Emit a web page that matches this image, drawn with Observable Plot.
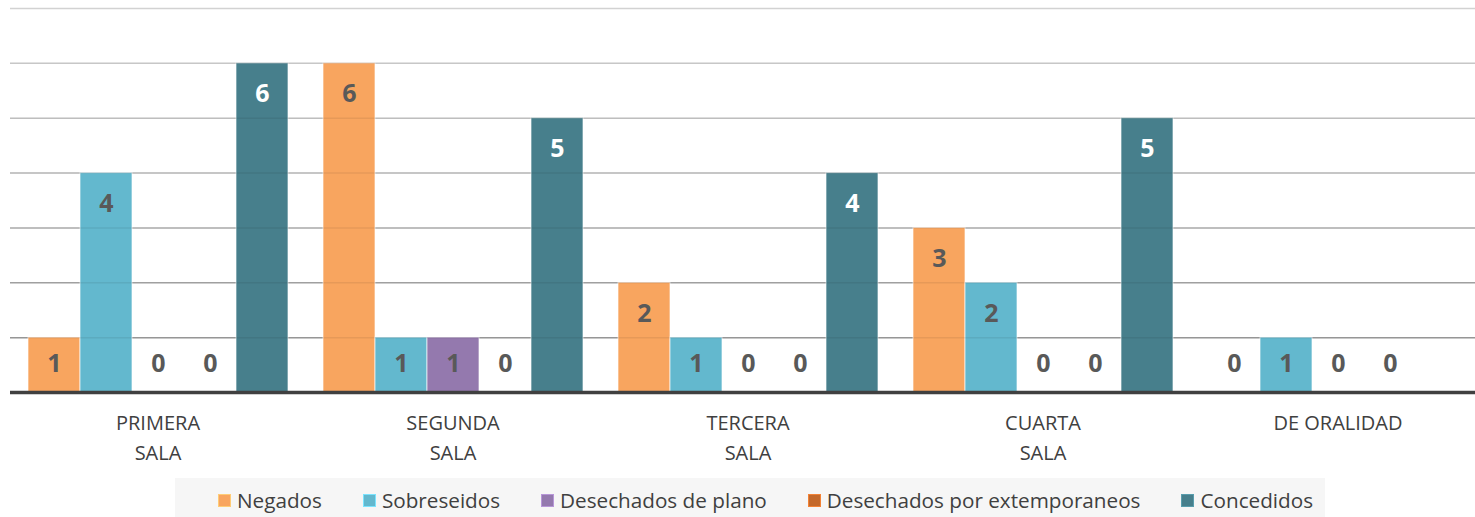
<!DOCTYPE html>
<html>
<head>
<meta charset="utf-8">
<script src="https://cdn.jsdelivr.net/npm/d3@7"></script>
<script src="https://cdn.jsdelivr.net/npm/@observablehq/plot@0.6"></script>
<style>
  html, body { margin: 0; padding: 0; background: #fff; overflow: hidden; }
  #legend { margin-top: 8px; margin-left: 175px; width: 1150px; height: 44px; background: #f6f6f6;
    display: flex; align-items: center; padding-left: 43px; box-sizing: border-box; gap: 41px;
    font: 20.7px "Open Sans", sans-serif; color: #404040; }
  #legend .item { display: flex; align-items: center; gap: 6px; white-space: nowrap; }
  #legend .sw { width: 11px; height: 11px; display: inline-block; }
</style>
</head>
<body>
<div id="chart"></div>
<div id="legend"></div>
<script>
const groups = ["PRIMERA\nSALA", "SEGUNDA\nSALA", "TERCERA\nSALA", "CUARTA\nSALA", "DE ORALIDAD"];
const series = ["Negados", "Sobreseidos", "Desechados de plano", "Desechados por extemporaneos", "Concedidos"];
const negados = [1, 6, 2, 3, 0];
const sobreseidos = [4, 1, 1, 2, 1];
const desechadosPlano = [0, 1, 0, 0, 0];
const desechadosExt = [0, 0, 0, 0, 0];
const concedidos = [6, 5, 4, 5, null];
const colors = ["#f8a55f", "#63b8ce", "#9479ae", "#c4692b", "#477f8c"];
const gridTicks = [1, 2, 3, 4, 5, 6, 7];

const valuesBySeries = [negados, sobreseidos, desechadosPlano, desechadosExt, concedidos];
const data = [];
groups.forEach((g, gi) => series.forEach((s, si) => {
  const v = valuesBySeries[si][gi];
  if (v != null) data.push({group: g, series: s, value: v, color: colors[si]});
}));

const fontFamily = "'Open Sans', sans-serif";
const labelColor = d => d.series === "Concedidos" ? "#ffffff" : "#595959";

const textOpts = (extra) => ({
  fx: "group", x: "series", y: "value", text: d => String(d.value),
  fontSize: 25, fontWeight: "bold", lineAnchor: "middle", ...extra
});

const chart = Plot.plot({
  width: 1485,
  height: 470,
  marginLeft: 10,
  marginRight: 0,
  marginTop: 8,
  marginBottom: 78,
  style: {fontFamily, maxWidth: "none", overflow: "visible"},
  fx: {domain: groups, padding: 0, axis: null, label: null},
  x: {domain: series, paddingInner: 0, paddingOuter: 0.32, axis: null},
  y: {domain: [0, 7], axis: null},
  color: {type: "identity"},
  marks: [
    Plot.ruleY(gridTicks, {y: d => d, stroke: d => d3.interpolateRgb("#a2a2a2", "#e2e2e2")((d - 1) / 6), strokeWidth: 1.5}),
    Plot.barY(data, {fx: "group", x: "series", y: "value", fill: "color", stroke: "#ffffff", strokeOpacity: 0.55, strokeWidth: 1.2}),
    Plot.ruleY(gridTicks, {y: d => d, stroke: "#000", strokeOpacity: 0.07, strokeWidth: 1.5}),
    Plot.text(data.filter(d => d.value >= 2), textOpts({fill: d => labelColor(d), dy: 31})),
    Plot.text(data.filter(d => d.value === 1), textOpts({fill: d => labelColor(d), dy: 26})),
    Plot.text(data.filter(d => d.value === 0), textOpts({fill: d => labelColor(d), dy: -29})),
    Plot.ruleY([0], {stroke: "#404040", strokeWidth: 3.5}),
    Plot.text(groups, {fx: d => d, text: d => d, frameAnchor: "bottom", lineAnchor: "top", dy: 16,
      fontSize: 20, lineHeight: 1.5, fill: "#404040"})
  ]
});
document.getElementById("chart").appendChild(chart);

const legend = document.getElementById("legend");
series.forEach((s, i) => {
  const item = document.createElement("div");
  item.className = "item";
  const sw = document.createElement("span");
  sw.className = "sw";
  sw.style.background = colors[i];
  sw.style.border = "1px solid " + d3.color(colors[i]).brighter(0.6).formatHex();
  const t = document.createElement("span");
  t.textContent = s;
  item.appendChild(sw);
  item.appendChild(t);
  legend.appendChild(item);
});
</script>
</body>
</html>
